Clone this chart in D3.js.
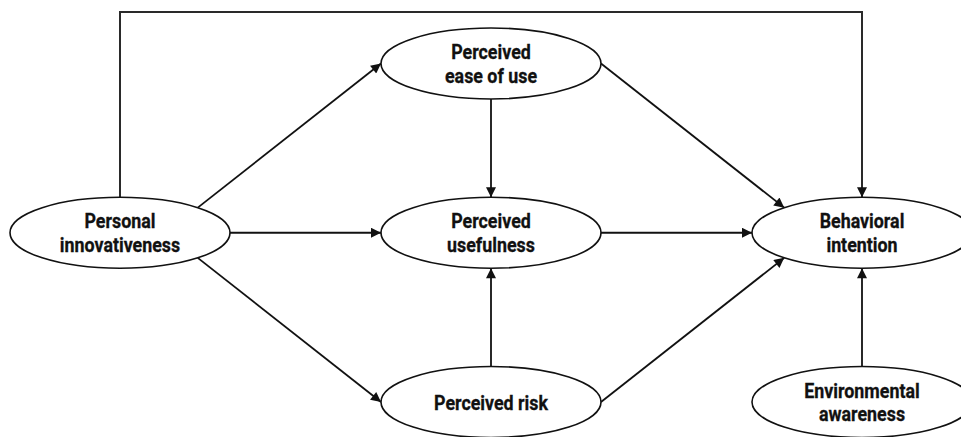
<!DOCTYPE html>
<html>
<head>
<meta charset="utf-8">
<script src="https://cdn.jsdelivr.net/npm/d3@7/dist/d3.min.js"></script>
<style>
  html, body { margin: 0; padding: 0; background: #fff; }
  svg { display: block; }
  text { font-family: Roboto, "Noto Sans", sans-serif; font-weight: 700; fill: #111; }
</style>
</head>
<body>
<svg id="chart" width="961" height="437"></svg>
<script>
// ---- data ----
const nodeIds    = ["PI", "PEU", "PU", "PR", "BI", "EA"];
const nodeLabels = [["Personal", "innovativeness"], ["Perceived", "ease of use"], ["Perceived", "usefulness"],
                    ["Perceived risk"], ["Behavioral", "intention"], ["Environmental", "awareness"]];
const nodeCols   = [0, 1, 1, 1, 2, 2];
const nodeRows   = [1, 0, 1, 2, 1, 2];
// paths: source, source port, target, target port
const edgeSources = ["PI", "PI", "PI", "PEU", "PU", "PR", "PEU", "PR", "EA", "PI"];
const edgeSrcPort = ["ne", "e",  "se", "e",   "e",  "e",  "s",   "n",  "n",  "n"];
const edgeTargets = ["PEU","PU", "PR", "BI",  "BI", "BI", "PU",  "PU", "BI", "BI"];
const edgeTgtPort = ["w",  "w",  "w",  "nw",  "w",  "sw", "n",   "s",  "s",  "n"];
const edgeRoute   = ["straight","straight","straight","straight","straight","straight","straight","straight","straight","over"];

// ---- layout ----
const svg = d3.select("#chart");
const x = d3.scaleLinear().domain([0, 2]).range([120, 862]);
const y = d3.scaleLinear().domain([0, 2]).range([63.5, 402]);
const rx = 110, ry = 35.5;
const topY = 12;

const nodes = nodeIds.map((id, i) => ({ id, label: nodeLabels[i], cx: x(nodeCols[i]), cy: y(nodeRows[i]) }));
const byId = Object.fromEntries(nodes.map(n => [n.id, n]));

const portAngle = { e: 0, ne: -Math.PI/4, n: -Math.PI/2, nw: -3*Math.PI/4, w: Math.PI, sw: 3*Math.PI/4, s: Math.PI/2, se: Math.PI/4 };
function port(n, p) {
  const a = portAngle[p];
  return [n.cx + rx * Math.cos(a), n.cy + ry * Math.sin(a)];
}

svg.append("defs").append("marker")
  .attr("id", "arrow")
  .attr("viewBox", "0 0 10 10")
  .attr("refX", 10).attr("refY", 5)
  .attr("markerWidth", 12).attr("markerHeight", 10)
  .attr("markerUnits", "userSpaceOnUse")
  .attr("orient", "auto")
  .append("path").attr("d", "M0,0 L10,5 L0,10 Z").attr("fill", "#111");

const edges = edgeSources.map((s, i) => ({
  s: byId[s], sp: edgeSrcPort[i], t: byId[edgeTargets[i]], tp: edgeTgtPort[i], route: edgeRoute[i]
}));

const line = d3.line();
svg.append("g").selectAll("path").data(edges).join("path")
  .attr("d", e => {
    const a = port(e.s, e.sp), b = port(e.t, e.tp);
    if (e.route === "over") return line([a, [a[0], topY], [b[0], topY], b]);
    return line([a, b]);
  })
  .attr("fill", "none")
  .attr("stroke", e => e.route === "over" ? "#2a2a2a" : "#111")
  .attr("stroke-width", e => e.route === "over" ? 2 : 1.8)
  .attr("marker-end", "url(#arrow)");

const g = svg.append("g").selectAll("g").data(nodes).join("g")
  .attr("transform", d => `translate(${d.cx},${d.cy})`);
g.append("ellipse")
  .attr("rx", rx).attr("ry", ry)
  .attr("fill", "#fff").attr("stroke", "#111").attr("stroke-width", 1.6);
const lh = 24;
g.append("text")
  .attr("text-anchor", "middle")
  .attr("font-size", 21)
  .attr("stroke", "#111").attr("stroke-width", 0.3)
  .attr("transform", "scale(0.85,1)")
  .selectAll("tspan").data(d => d.label.map((t, i) => ({ t, i, n: d.label.length }))).join("tspan")
  .attr("x", 0)
  .attr("y", d => (d.i - (d.n - 1) / 2) * lh + 7.5)
  .text(d => d.t);
</script>
</body>
</html>
